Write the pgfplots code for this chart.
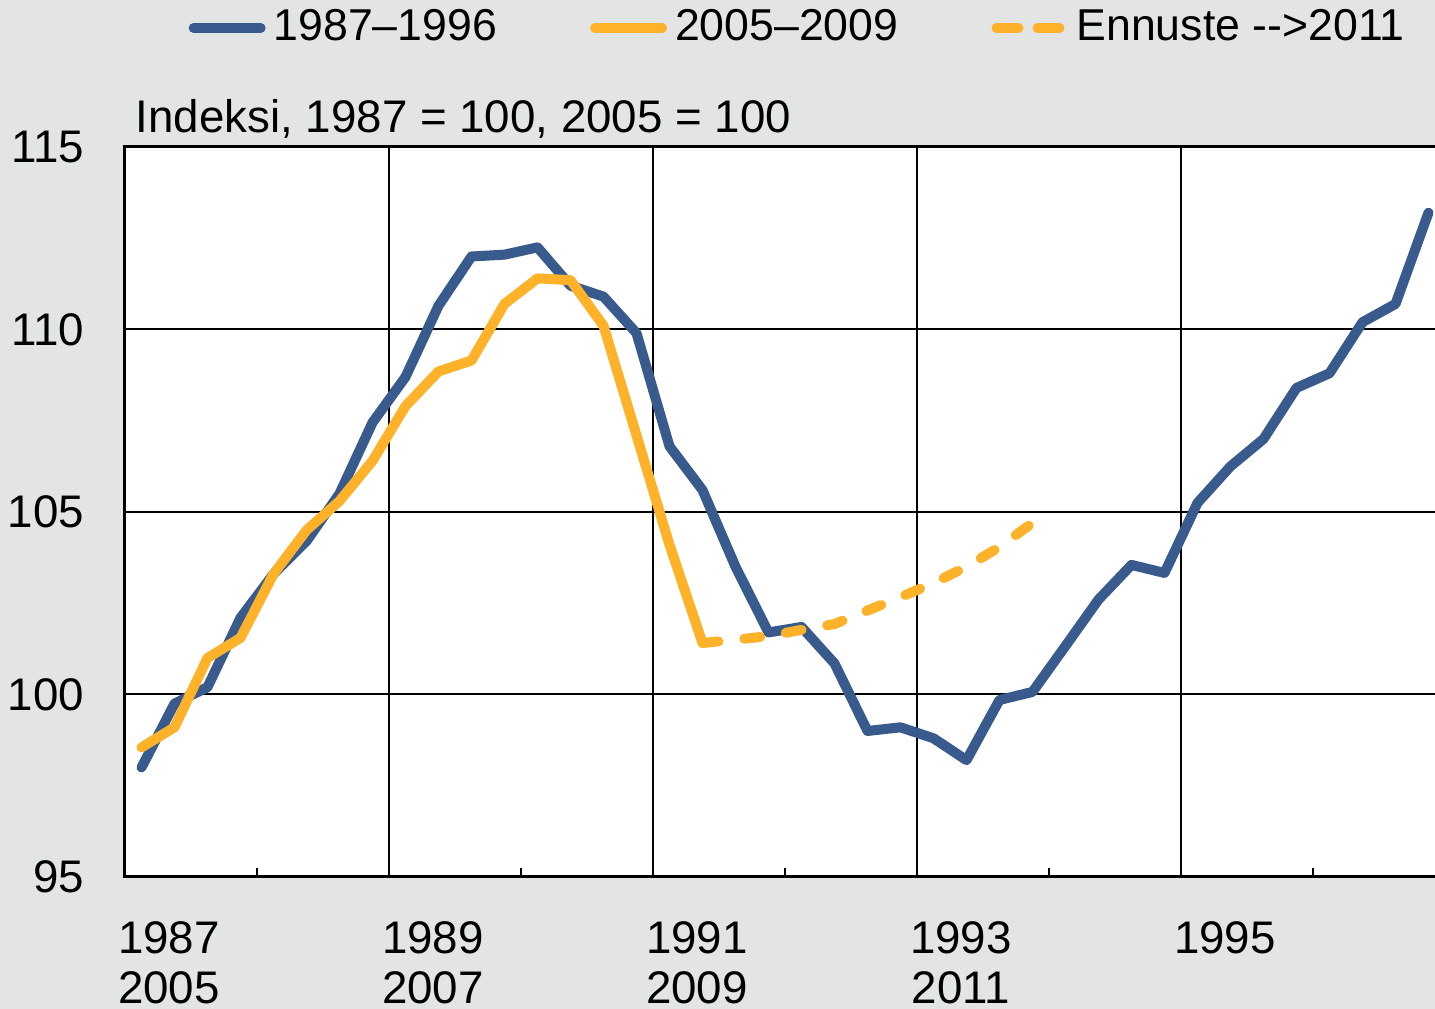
\documentclass[border=0pt]{standalone}
\usepackage{fontspec}
\setmainfont{Liberation Sans}
\usepackage{pgfplots}
\pgfplotsset{compat=1.18}
\definecolor{bgray}{HTML}{E3E5E4}
\definecolor{sblue}{HTML}{385A8D}
\definecolor{sorange}{HTML}{FDB22A}
\begin{document}
\fontsize{13}{14.8}\selectfont
\begin{tikzpicture}[x=1mm,y=1mm]
\fill[bgray] (-12.5,-13.2) rectangle (131,87.7);
\begin{axis}[
  at={(0,0)}, anchor=south west,
  scale only axis, width=132mm, height=73mm,
  xmin=-0.5, xmax=39.5, ymin=95, ymax=115,
  axis background/.style={fill=white},
  xtick={-0.5,7.5,15.5,23.5,31.5,39.5},
  xticklabels={{1987\\2005},{1989\\2007},{1991\\2009},{1993\\2011},{1995},{}},
  xticklabel style={align=center, font=\fontsize{13}{14.2}\selectfont, xshift=4.4mm, yshift=-2.9mm},
  minor xtick={3.5,11.5,19.5,27.5,35.5},
  ytick={95,100,105,110,115},
  yticklabel style={xshift=-2.5mm, font=\fontsize{13}{14.8}\selectfont},
  xmajorgrids, ymajorgrids,
  grid style={black, line width=0.2mm},
  major tick length=0pt, minor tick length=0.9mm,
  tick align=inside, tick pos=left,
  minor tick style={black, line width=0.2mm},
  axis line style={black, line width=0.3mm},
  /pgf/number format/assume math mode=true,
  clip=false,
  legend columns=3,
  legend style={at={(axis description cs:0.0477,1.163)}, anchor=west,
    draw=none, fill=none, inner sep=0pt,
    font=\fontsize{12.7}{14.8}\selectfont,
    nodes={inner sep=0pt},
    /tikz/every odd column/.append style={column sep=0.8mm},
    /tikz/every even column/.append style={column sep=9.3mm}},
  legend image code/.code={\draw[#1, dash pattern=] (0.5mm,0mm) -- (7.2mm,0mm);},
]
\addplot[sblue, line width=1.0mm, line join=round, line cap=round] coordinates {
(0,98.0) (1,99.75) (2,100.2) (3,102.1) (4,103.3) (5,104.2) (6,105.5) (7,107.45)
(8,108.7) (9,110.65) (10,112.0) (11,112.05) (12,112.25) (13,111.2) (14,110.9) (15,109.9)
(16,106.8) (17,105.6) (18,103.5) (19,101.7) (20,101.85) (21,100.85) (22,99.0) (23,99.1)
(24,98.8) (25,98.2) (26,99.85) (27,100.07) (28,101.33) (29,102.6) (30,103.55) (31,103.33)
(32,105.25) (33,106.25) (34,107.0) (35,108.4) (36,108.8) (37,110.2) (38,110.7) (39,113.2)};
\addplot[sorange, line width=1.0mm, line join=round, line cap=round] coordinates {
(0,98.55) (1,99.1) (2,101.0) (3,101.55) (4,103.3) (5,104.5) (6,105.3) (7,106.4)
(8,107.9) (9,108.85) (10,109.15) (11,110.7) (12,111.4) (13,111.35) (14,110.1) (15,107.1)
(16,104.1) (17,101.41)};
\addplot[sorange, line width=1.0mm, line cap=round, dash pattern=on 1.6mm off 2.6mm,
  legend image code/.code={\draw[sorange, line width=1.0mm, line cap=round, dash pattern=on 2.2mm off 1.9mm] (0.5mm,0mm) -- (7.2mm,0mm);}] coordinates {
(17,101.41) (18,101.5) (19,101.6) (20,101.77) (21,101.93) (22,102.3) (23,102.67)
(24,103.05) (25,103.5) (26,104.04) (27,104.7)};
\legend{1987--1996, 2005--2009, Ennuste -{}->2011}
\end{axis}
\node[anchor=base west, inner sep=0pt] at (1,74.4) {Indeksi, 1987 = 100, 2005 = 100};
\pgfresetboundingbox
\useasboundingbox (-12.5,-13.2) rectangle (131,87.7);
\end{tikzpicture}
\end{document}
